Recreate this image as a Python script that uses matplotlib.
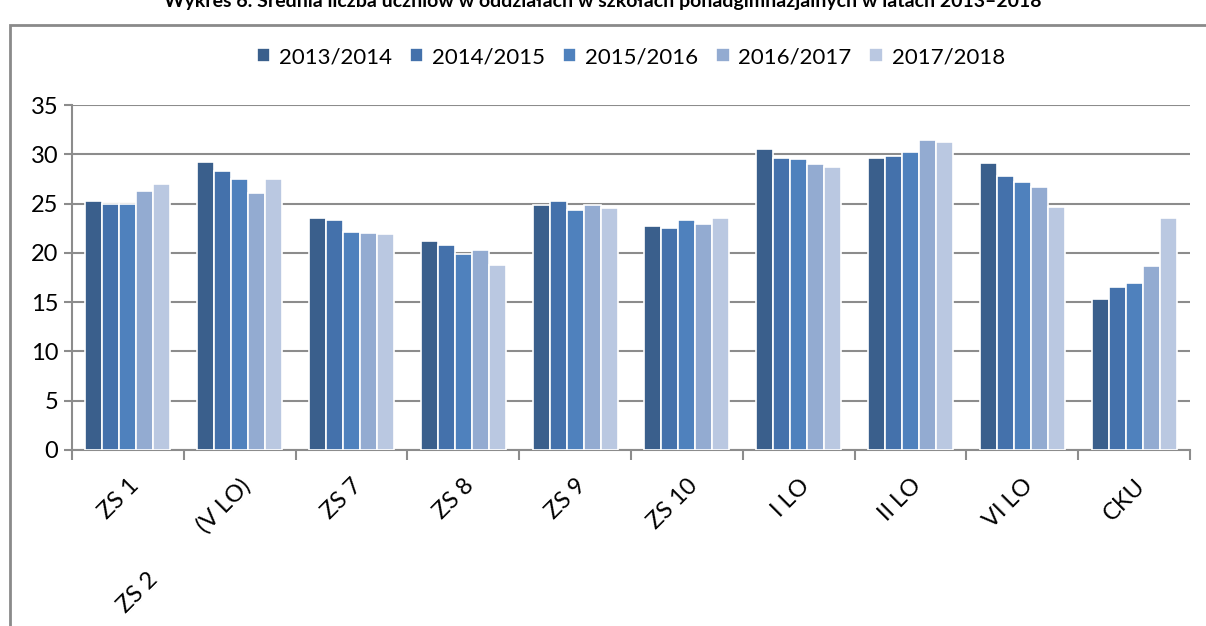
import numpy as np
import matplotlib
matplotlib.use("Agg")
import matplotlib.pyplot as plt
from matplotlib.patches import Rectangle

plt.rcParams['font.family'] = ['Lato', 'DejaVu Sans']

# --- dane ---
schools = ["ZS 1", "ZS 2           (V LO)", "ZS 7", "ZS 8", "ZS 9", "ZS 10",
           "I LO", "II LO", "VI LO", "CKU"]
years = ["2013/2014", "2014/2015", "2015/2016", "2016/2017", "2017/2018"]
y2013 = [25.3, 29.2, 23.5, 21.2, 24.9, 22.7, 30.5, 29.6, 29.1, 15.3]
y2014 = [25.0, 28.3, 23.3, 20.8, 25.3, 22.5, 29.6, 29.8, 27.8, 16.5]
y2015 = [25.0, 27.5, 22.1, 19.9, 24.3, 23.3, 29.5, 30.2, 27.2, 16.9]
y2016 = [26.3, 26.1, 22.0, 20.3, 24.9, 22.9, 29.0, 31.5, 26.7, 18.7]
y2017 = [27.0, 27.5, 21.9, 18.8, 24.6, 23.5, 28.7, 31.2, 24.7, 23.5]
series = [y2013, y2014, y2015, y2016, y2017]
colors = ["#3a5f8c", "#4471ab", "#4f81bd", "#93abd1", "#bac8e1"]

fig = plt.figure(figsize=(12.06, 6.26), dpi=100)
ax = fig.add_axes([72 / 1206, 1 - 450 / 626, (1190 - 72) / 1206, 345 / 626])

# ramka wokol wykresu
fig.patches.append(Rectangle((10 / 1206, -0.1), 1.2, 1 - 25 / 626 + 0.1,
                             transform=fig.transFigure, fill=False,
                             edgecolor="#8a8a8a", linewidth=2))

x = np.arange(len(schools))
bw = 0.152
for i, (vals, c, lab) in enumerate(zip(series, colors, years)):
    ax.bar(x + (i - 2) * bw, vals, width=bw, color=c, edgecolor="white",
           linewidth=1.2, label=lab, zorder=3)

ax.set_xlim(-0.5, len(schools) - 0.5)
ax.set_ylim(0, 35)
ax.set_yticks(range(0, 36, 5))
ax.yaxis.grid(True, color="#8c8c8c", linewidth=1.5, zorder=0)
ax.set_axisbelow(True)

ax.set_xticks(np.arange(-0.5, len(schools), 1))
ax.set_xticklabels([])
ax.set_xticks(x, minor=True)
ax.set_xticklabels(schools, minor=True, rotation=45, ha="right",
                   rotation_mode="anchor", fontsize=17)
ax.tick_params(axis="x", which="minor", length=0, pad=18)
ax.tick_params(axis="x", which="major", length=7, width=1.5, color="#8c8c8c",
               direction="out")
ax.tick_params(axis="y", length=6, width=1.5, color="#8c8c8c", labelsize=17,
               pad=4)

for s in ["top", "right"]:
    ax.spines[s].set_visible(False)
for s in ["left", "bottom"]:
    ax.spines[s].set_color("#8c8c8c")
    ax.spines[s].set_linewidth(1.5)

ax.legend(loc="center", bbox_to_anchor=(0.5, (626 - 57 - 176) / 345),
          ncol=5, frameon=False, fontsize=16, handlelength=0.6,
          handleheight=0.6, handletextpad=0.4, columnspacing=0.8)

fig.text(0.5, 1.0, "Wykres 6. Średnia liczba uczniów w oddziałach w szkołach "
         "ponadgimnazjalnych w latach 2013–2018",
         ha="center", va="center", fontsize=14, fontweight="bold")

fig.savefig("out.png", dpi=100)
